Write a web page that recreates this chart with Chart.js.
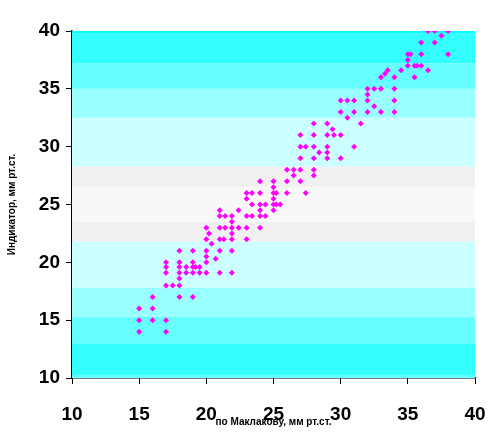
<!DOCTYPE html>
<html><head><meta charset="utf-8">
<script src="https://cdn.jsdelivr.net/npm/chart.js@4"></script>
<style>body{margin:0;background:#fff}#w{width:500px;height:442px}</style>
</head><body><div id="w"><canvas id="c"></canvas></div>
<script>
const xValues = [36.5,37,38, 37.5, 36,37, 35,35.2,36,38, 35, 35,35.5,35.7,36, 34.5,36.5,33,33.3,33.5, 34,35.5,
 32,32.5,33,34, 32, 30,30.5,31,32,34, 32.5, 30,31,32,33,34, 30.5, 28,29,31.5, 29.4, 27,28,29,29.5,30,
 27,27.4,28,29,31, 28.4,29, 27,28,29,30, 26,26.5,27,28, 26.5,28, 24,25,26,27, 25,
 23,23.4,24,25,25.2,26,27.4, 23,25, 23.4,24,24.4,25,25.2,25.5, 21,22.4,24,25,
 21,21.4,21.9,23,23.4,24,24.4, 21.9, 20,21,21.4,21.9,22.4,23,24, 20.2,21.9,
 20,21,21.3,21.9,23, 20.4, 18,19,20,21,21.9, 20, 20.7, 17,18,19,20,
 17,18,18.5,19,19.2,19.5, 17,18,18.5,19,19.5,20,21,21.9, 18, 17,17.5,18,
 16,18,19, 15,16, 15,16,17, 15,17];
const yValues = [40,40,40, 39.6, 39,39, 38,38,38,38, 37.5, 37,37,37,37, 36.6,36.6,36,36.3,36.6, 36,36,
 35,35,35,35, 34.5, 34,34,34,34,34, 33.5, 33,33,33,33,33, 32.5, 32,32,32, 31.5, 31,31,31,31,31,
 30,30,30,30,30, 29.5,29.5, 29,29,29,29, 28,28,28,28, 27.5,27.5, 27,27,27,27, 26.5,
 26,26,26,26,26,26,26, 25.5,25.5, 25,25,25,25,25,25, 24.5,24.5,24.5,24.5,
 24,24,24,24,24,24,24, 23.5, 23,23,23,23,23,23,23, 22.5,22.5,
 22,22,22,22,22, 21.6, 21,21,21,21,21, 20.5, 20.3, 20,20,20,20,
 19.6,19.6,19.6,19.6,19.6,19.6, 19.1,19.1,19.1,19.1,19.1,19.1,19.1,19.1, 18.6, 18,18,18,
 17,17,17, 16,16, 15,15,15, 14,14];
const xTicks = [10,15,20,25,30,35,40];
const yTicks = [10,15,20,25,30,35,40];
const bandEdges = [10,10.2,13,15.3,17.8,21.8,23.5,26.5,28.3,32.5,35,37.2,39.8,40];
const bandColors = ['#66ffff','#33ffff','#66ffff','#99ffff','#ccffff','#f0f0f0','#f8f8f8','#f0f0f0','#ccffff','#99ffff','#66ffff','#33ffff','#00ffff'];

const bands = {id:'bands', beforeDatasetsDraw(ch){
  const {ctx, chartArea:a, scales:{y}} = ch;
  ctx.save();
  for(let i=0;i<bandColors.length;i++){
    const t=y.getPixelForValue(bandEdges[i+1]), b=y.getPixelForValue(bandEdges[i]);
    ctx.fillStyle=bandColors[i]; ctx.fillRect(a.left,t,a.right-a.left,b-t);
  }
  ctx.restore();
}};
const F='"Liberation Sans", Arial, sans-serif';
new Chart(document.getElementById('c'),{
  type:'scatter',
  data:{datasets:[{data:xValues.map((x,i)=>({x,y:yValues[i]})),pointStyle:'rectRot',radius:3,
    backgroundColor:'#ff00ff',borderColor:'#ff00ff',borderWidth:0,hoverRadius:3}]},
  options:{responsive:true,maintainAspectRatio:false,animation:false,
    layout:{padding:{top:31,right:25,left:0,bottom:0}},
    plugins:{legend:{display:false},tooltip:{enabled:false}},
    scales:{
      x:{type:'linear',min:10,max:40,afterBuildTicks:s=>{s.ticks=xTicks.map(v=>({value:v}))},
        afterFit:s=>{s.height=64;s.paddingRight=0;s.paddingLeft=0},
        border:{color:'#000',width:1.5},
        grid:{drawOnChartArea:false,color:'#000',tickLength:6},
        ticks:{color:'#000',font:{family:F,size:19,weight:'bold'},padding:19,maxRotation:0},
        title:{display:true,text:'по Маклакову, мм рт.ст.',color:'#000',font:{family:F,size:10,weight:'bold'},padding:{top:0,bottom:14}}},
      y:{type:'linear',min:10,max:40,afterBuildTicks:s=>{s.ticks=yTicks.map(v=>({value:v}))},
        afterFit:s=>{s.width=72},
        border:{color:'#000',width:1.5},
        grid:{drawOnChartArea:false,color:'#000',tickLength:6},
        ticks:{color:'#000',font:{family:F,size:19,weight:'bold'},padding:6},
        title:{display:true,text:'Индикатор, мм рт.ст.',color:'#000',font:{family:F,size:10,weight:'bold'},padding:{top:6,bottom:0}}}
    }},
  plugins:[bands]
});
</script></body></html>
